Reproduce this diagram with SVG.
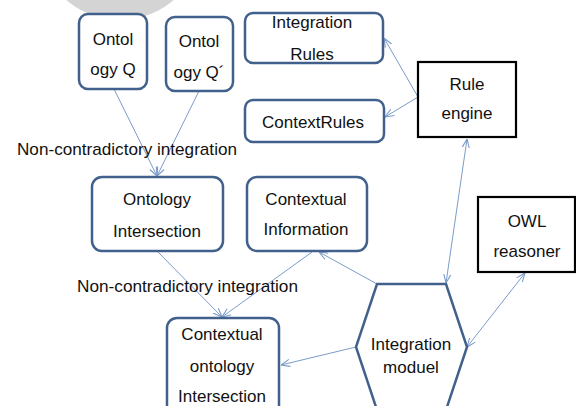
<svg xmlns="http://www.w3.org/2000/svg" width="576" height="406" viewBox="0 0 576 406">
<style>
.box{fill:#fff;stroke:#41618c;stroke-width:2.5}
.blk{fill:#fff;stroke:#000;stroke-width:2.2}
.t{font-family:"Liberation Sans",Arial,sans-serif;font-size:17px;fill:#111;text-anchor:middle}
.lab{font-family:"Liberation Sans",Arial,sans-serif;font-size:17px;fill:#111}
.c{fill:none;stroke:#7b9cc9;stroke-width:1}
</style>
<defs>
<marker id="ah" viewBox="0 0 10 10" refX="10" refY="5" markerWidth="9" markerHeight="9" orient="auto-start-reverse" markerUnits="userSpaceOnUse">
<path d="M0,1 L10,5 L0,9" fill="none" stroke="#7b9cc9" stroke-width="1.2"/>
</marker>
</defs>
<rect width="576" height="406" fill="#fff"/>
<circle cx="120" cy="-62" r="82" fill="#d4d4d4"/>
<g id="connectors">
<line class="c" x1="114" y1="89" x2="157" y2="176" marker-end="url(#ah)"/>
<line class="c" x1="199" y1="91" x2="157" y2="176" marker-end="url(#ah)"/>
<line class="c" x1="418" y1="97" x2="384" y2="38" marker-end="url(#ah)"/>
<line class="c" x1="418" y1="97" x2="385" y2="117" marker-end="url(#ah)"/>
<line class="c" x1="446" y1="283" x2="467" y2="139" marker-start="url(#ah)" marker-end="url(#ah)"/>
<line class="c" x1="377" y1="284" x2="319" y2="252" marker-end="url(#ah)"/>
<line class="c" x1="356" y1="347" x2="281" y2="365" marker-end="url(#ah)"/>
<line class="c" x1="467" y1="347" x2="525" y2="273" marker-start="url(#ah)" marker-end="url(#ah)"/>
<line class="c" x1="158" y1="252" x2="222" y2="317" marker-end="url(#ah)"/>
<line class="c" x1="312" y1="252" x2="222" y2="317" marker-end="url(#ah)"/>
</g>
<g id="ontQ"><rect class="box" x="79" y="14" width="68" height="75" rx="9"/><text class="t" x="113" y="45">Ontol</text><text class="t" x="113" y="75">ogy Q</text></g>
<g id="ontQ2"><rect class="box" x="166" y="17" width="67" height="74" rx="9"/><text class="t" x="199" y="47">Ontol</text><text class="t" x="199" y="78">ogy Q´</text></g>
<g id="intRules"><rect class="box" x="245" y="13" width="138" height="50" rx="8"/><text class="t" x="312" y="28">Integration</text><text class="t" x="312" y="60">Rules</text></g>
<g id="ctxRules"><rect class="box" x="245" y="100" width="139" height="42" rx="8"/><text class="t" x="313" y="128">ContextRules</text></g>
<g id="ruleEngine"><rect class="blk" x="418" y="62" width="98" height="75"/><text class="t" x="467" y="90">Rule</text><text class="t" x="467" y="119">engine</text></g>
<g id="label1"><text class="lab" x="17" y="155" textLength="220" lengthAdjust="spacingAndGlyphs">Non-contradictory integration</text></g>
<g id="ontInter"><rect class="box" x="92" y="177" width="131" height="74" rx="10"/><text class="t" x="157" y="205">Ontology</text><text class="t" x="157" y="237">Intersection</text></g>
<g id="ctxInfo"><rect class="box" x="247" y="177" width="120" height="74" rx="10"/><text class="t" x="306" y="205">Contextual</text><text class="t" x="306" y="235">Information</text></g>
<g id="owl"><rect class="blk" x="478" y="197" width="97" height="75"/><text class="t" x="527" y="227">OWL</text><text class="t" x="527" y="257">reasoner</text></g>
<g id="label2"><text class="lab" x="77" y="292" textLength="221" lengthAdjust="spacingAndGlyphs">Non-contradictory integration</text></g>
<g id="ctxOntInter"><rect class="box" x="167" y="318" width="112" height="100" rx="10"/><text class="t" x="222" y="340">Contextual</text><text class="t" x="222" y="372">ontology</text><text class="t" x="222" y="402">Intersection</text></g>
<g id="intModule"><polygon class="box" points="377,284 446,284 467,347 446,410 377,410 356,347"/><text class="t" x="411" y="350">Integration</text><text class="t" x="411" y="373">moduel</text></g>
</svg>
